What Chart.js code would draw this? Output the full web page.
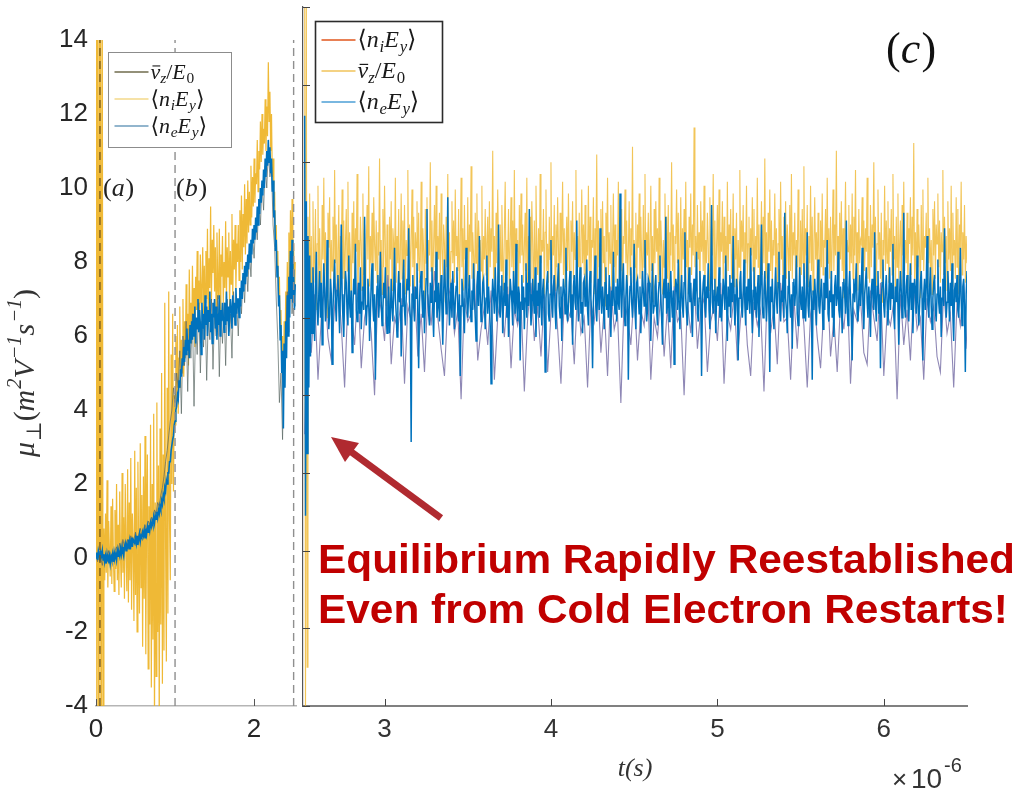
<!DOCTYPE html>
<html>
<head>
<meta charset="utf-8">
<script src="https://cdn.jsdelivr.net/npm/chart.js@4.4.1/dist/chart.umd.min.js"></script>
<style>
  html, body { margin: 0; padding: 0; background: #fff; }
  #wrap { position: relative; width: 1023px; height: 791px; overflow: hidden; }
  #wrap canvas { position: absolute; left: 0; top: 0; }
</style>
</head>
<body>
<div id="wrap">
  <canvas id="panelAB" width="1023" height="791"></canvas>
  <canvas id="panelC" width="1023" height="791"></canvas>
</div>
<script>
// ---- panels (a)+(b): t = 0 .. 2.52 us, sampled every 0.01 us ----
const leftStep = 0.01;
const niLeft = [
  15,-5,15,-5,15,-5,15,-5,14,-5,
  0.8,-0.6,1.2,-0.4,2.1,-0.8,1.0,0.2,-0.5,1.4,
  -0.7,1.6,0.1,-0.9,1.3,-0.3,2.0,-0.6,0.9,-1.0,
  1.8,0.0,-0.8,2.3,-0.4,1.1,-1.1,2.0,0.3,-0.9,
  2.4,-1.2,1.5,-0.6,2.7,-1.4,1.2,0.4,-1.7,2.9,
  -1.0,1.9,-2.0,2.6,0.2,-1.5,3.1,-0.8,1.7,-2.4,
  2.2,-1.1,3.3,-2.6,1.0,2.8,-3.0,1.4,-1.8,3.6,
  -3.5,2.0,-2.2,3.9,-4.5,1.5,-3.2,4.2,-2.0,2.5,
  -4.6,3.5,-1.8,5.0,-3.4,2.8,-2.5,6.9,0.5,-2.8,
  4.6,-1.5,7.2,1.0,-0.6,5.5,2.0,6.6,1.8,4.4,
  3.6,6.0,4.2,6.3,3.9,5.4,6.8,4.6,5.9,5.0,
  7.0,4.9,6.4,5.4,7.4,5.7,6.6,5.2,7.8,6.1,
  6.9,5.8,7.9,6.3,7.3,5.7,7.6,6.7,8.3,6.5,
  7.5,6.2,8.2,6.9,7.2,8.4,6.6,7.9,6.9,8.3,
  7.0,8.9,6.5,8.1,7.3,9.5,6.9,8.6,7.7,9.0,
  7.2,8.4,6.6,8.8,7.5,7.0,8.9,6.7,8.2,7.6,
  8.7,6.9,8.0,7.3,9.1,7.0,8.4,7.6,8.8,6.8,
  8.3,7.4,9.3,7.1,8.6,7.8,9.0,7.3,8.5,8.0,
  9.0,7.5,9.4,8.0,9.8,7.8,9.3,8.4,10.1,8.2,
  9.7,8.5,10.2,8.8,9.9,9.0,10.6,9.2,10.3,9.5,
  10.8,9.6,10.4,10.1,11.3,9.9,11.0,10.5,11.8,10.7,
  12.0,10.9,11.6,11.2,12.4,11.0,12.2,11.4,13.4,11.8,
  12.6,11.0,12.0,10.3,10.8,9.5,9.9,8.6,9.0,7.9,
  8.3,7.0,7.6,6.2,6.7,5.3,6.0,4.4,6.4,5.1,
  7.2,5.9,8.0,6.6,8.8,7.0,9.4,7.6,9.7,7.3,
  8.5,7.1,8.0
];
const neLeft = [
  0.0,0.15,-0.05,0.2,0.1,-0.1,0.15,0.05,0.2,-0.05,
  0.1,-0.1,0.05,-0.15,0.1,-0.05,-0.1,0.05,-0.15,0.05,
  -0.05,0.1,-0.1,0.15,0.0,0.1,-0.05,0.2,0.05,0.15,
  0.05,0.25,0.1,0.3,0.15,0.05,0.3,0.4,0.2,0.35,
  0.3,0.5,0.25,0.45,0.35,0.55,0.3,0.5,0.45,0.4,
  0.55,0.4,0.6,0.35,0.5,0.65,0.45,0.6,0.55,0.7,
  0.6,0.75,0.55,0.8,0.65,0.85,0.7,0.9,0.75,0.95,
  0.85,1.0,0.9,1.1,0.95,1.15,1.05,1.25,1.1,1.3,
  1.2,1.4,1.3,1.55,1.45,1.7,1.6,1.9,1.8,2.1,
  2.0,2.3,2.3,2.6,2.6,2.9,2.9,3.2,3.3,3.6,
  3.7,4.0,4.1,4.4,4.3,4.8,4.6,5.1,4.9,5.4,
  5.2,5.7,5.3,5.9,5.5,6.2,5.6,5.9,5.4,6.3,
  5.8,6.4,5.9,6.6,6.0,6.8,5.8,6.5,6.2,7.0,
  6.1,6.7,6.3,5.5,6.9,6.2,6.6,5.9,7.1,6.3,
  6.8,6.0,6.7,6.4,7.2,6.1,6.6,5.8,6.9,6.5,
  7.0,6.2,6.8,5.9,6.6,6.3,7.1,6.0,6.7,6.4,
  6.9,6.5,6.1,6.9,6.3,7.2,6.4,6.8,6.0,6.6,
  7.0,6.7,6.2,7.1,6.5,6.9,6.3,7.3,6.6,7.0,
  7.0,6.5,7.3,6.8,7.5,7.0,7.7,7.2,7.9,7.4,
  8.0,7.6,8.2,7.8,8.5,8.0,8.6,8.2,8.9,8.5,
  9.0,8.6,9.2,8.8,9.5,9.0,9.7,9.3,10.0,9.6,
  10.2,9.8,10.5,10.0,10.8,10.3,11.0,10.6,11.3,10.7,
  11.1,10.4,10.8,9.9,10.2,9.2,9.4,8.3,8.6,7.6,
  7.9,6.8,7.1,5.9,6.3,5.0,5.6,3.5,5.8,4.6,
  6.4,5.4,7.1,6.0,7.6,6.5,8.3,7.0,8.6,6.9,
  7.8,6.7,7.4
];
// drift velocity estimate, every 0.02 us
const vzLeftStep = 0.02;
const vzLeft = [
  0.1,-0.1,0.2,0.0,-0.2,0.1,0.0,-0.1,0.2,0.0,
  0.1,-0.1,0.2,0.3,0.1,0.4,0.2,0.5,0.3,0.4,
  0.5,0.3,0.6,0.4,0.5,0.7,0.5,0.6,0.8,0.6,
  0.7,0.9,0.7,1.0,0.9,1.1,1.0,1.3,1.2,1.5,
  1.4,1.7,1.9,2.2,2.6,2.9,3.3,3.7,4.0,4.6,
  4.2,5.0,4.6,5.6,3.9,6.0,5.2,6.4,4.5,6.2,
  5.4,6.6,4.1,6.3,5.5,6.9,5.0,6.4,5.7,6.8,
  4.8,6.5,5.9,7.0,5.1,6.6,6.0,7.1,4.9,6.7,
  5.8,6.9,5.2,7.0,6.1,6.6,5.4,7.2,6.3,6.9,
  6.0,7.3,6.6,7.6,6.9,8.0,7.2,8.3,7.6,8.7,
  8.1,9.1,8.6,9.6,9.0,10.1,9.4,10.6,10.0,11.0,
  10.3,10.6,9.0,8.4,7.0,5.9,4.2,5.0,3.2,5.6,
  5.8,7.2,6.1,8.3,6.6,7.4,6.8
];
// phase boundaries (dashed markers)
const phaseMarks = [0.05, 1.0, 2.5];

// ---- panel (c): restart, t = 2.52 .. 6.5 us, sampled every 0.005 us ----
const rightStart = 2.52;
const rightStep = 0.005;
const neRight = [
  11.2,0.9,9.0,2.5,8.1,4.2,7.6,5.0,6.9,5.6,7.3,6.1,5.4,6.8,7.7,6.2,5.8,6.6,7.2,6.0,
  6.9,5.3,6.4,7.4,6.7,5.9,6.3,8.0,6.5,5.7,6.1,7.0,6.6,4.8,6.2,6.9,7.5,6.4,5.9,6.7,
  7.1,6.3,5.6,6.8,8.4,6.6,6.0,5.5,6.5,7.2,6.9,6.1,5.8,7.6,6.4,6.0,6.7,5.1,6.3,7.0,
  6.6,7.9,6.2,5.9,6.5,6.9,6.1,7.3,5.7,6.4,6.8,6.2,8.6,6.5,5.8,6.3,7.0,6.6,5.4,6.1,
  6.9,7.4,6.3,5.9,6.6,4.4,6.2,6.8,7.1,6.0,6.5,7.7,6.4,5.8,6.2,6.9,6.5,7.3,6.1,5.6,
  6.4,6.8,5.6,6.0,7.0,6.3,5.9,6.7,7.8,6.5,6.1,5.5,6.6,7.2,6.4,6.9,5.0,6.3,6.8,7.5,
  6.2,5.8,6.5,7.0,6.7,8.3,6.4,6.0,2.8,6.6,7.1,6.3,5.9,6.8,6.5,7.4,6.1,4.7,6.4,6.9,
  7.2,6.5,6.0,6.7,5.6,6.3,7.0,8.8,6.6,6.1,5.8,6.9,6.4,7.3,6.2,5.5,6.7,6.4,7.7,6.0,
  6.3,6.9,5.9,6.5,7.1,6.2,5.3,6.6,7.5,6.8,6.1,6.4,9.1,6.7,5.8,6.3,6.9,6.0,7.2,6.5,
  5.7,6.4,6.8,7.3,6.2,5.9,6.6,4.5,6.3,7.0,6.7,6.1,5.6,6.9,7.8,6.4,6.0,6.6,7.1,6.3,
  5.9,6.7,6.2,7.4,6.5,6.0,5.4,6.8,7.2,6.3,8.1,6.6,5.9,6.2,6.9,7.0,6.4,5.7,6.5,7.6,
  6.1,6.8,6.3,5.8,4.3,6.4,7.0,6.6,6.1,7.3,6.5,5.9,6.7,8.4,6.2,6.0,6.8,7.1,5.6,6.4,
  6.9,6.3,7.5,6.0,6.6,5.5,6.2,7.0,6.7,6.4,5.8,7.2,6.5,6.1,7.9,6.3,5.9,6.8,6.6,4.9,
  6.4,7.1,6.2,6.8,5.7,6.5,7.4,6.0,6.9,6.3,8.8,6.6,5.8,6.2,7.0,6.5,6.1,7.3,5.5,6.7,
  6.3,6.9,6.0,7.6,6.4,5.8,6.7,7.0,6.2,4.6,6.5,6.9,7.2,6.1,5.9,6.6,8.0,6.4,6.0,6.8,
  7.1,6.2,5.7,6.6,6.9,7.4,6.3,6.0,6.8,5.4,6.5,7.0,6.7,6.1,7.8,6.4,5.9,6.3,6.9,7.2,
  6.0,6.6,5.3,6.8,7.1,6.4,6.2,8.5,6.5,5.9,6.7,7.3,6.1,6.4,5.6,6.9,7.0,6.3,6.6,7.5,
  6.2,5.8,6.7,7.2,6.5,6.0,4.7,6.4,6.9,7.6,6.3,5.9,6.6,7.0,6.2,8.3,6.5,6.1,6.8,6.4,
  5.7,6.9,7.3,6.2,6.6,6.0,7.1,6.4,5.5,6.7,6.3,7.7,6.5,6.1,6.8,5.9,7.0,6.4,6.2,9.2,
  6.6,6.0,6.9,7.4,6.3,5.8,6.5,7.1,6.7,4.4,6.2,6.8,7.3,6.4,6.0,6.6,7.9,6.2,5.7,6.9,
  7.0,6.5,6.1,6.8,5.6,6.4,7.2,6.7,6.3,8.0,6.6,5.9,6.2,7.0,6.9,6.4,5.4,6.5,7.4,6.1,
  6.3,6.8,7.1,6.2,5.8,6.6,6.9,7.6,6.4,6.0,5.3,6.7,7.0,6.5,8.6,6.1,6.3,6.9,5.9,6.6,
  7.2,6.4,6.0,6.7,4.8,6.5,7.0,6.8,6.2,7.5,6.4,5.7,6.6,7.1,6.3,6.0,6.9,8.2,6.5,6.1,
  5.8,6.7,7.3,6.4,6.9,6.2,5.5,6.6,7.0,6.3,6.8,7.7,6.1,5.9,6.5,7.2,6.6,4.5,6.4,6.9,
  7.1,6.3,6.0,6.8,6.5,7.4,6.2,5.7,6.9,8.9,6.4,6.1,6.7,7.0,5.6,6.5,6.8,6.3,7.3,6.0,
  6.6,5.9,6.4,7.0,6.7,6.2,7.6,6.5,5.4,6.8,6.3,7.1,6.0,6.9,6.4,8.1,6.6,5.8,6.2,7.0,
  6.7,4.9,6.5,6.9,7.2,6.3,6.0,6.6,7.5,6.4,5.8,6.8,6.2,7.0,6.5,6.1,7.8,6.4,5.6,6.7,
  7.3,6.2,6.8,6.0,6.6,7.1,5.5,6.4,6.9,8.4,6.3,6.0,6.7,7.2,6.5,5.9,6.6,7.4,6.1,4.6,
  6.8,6.4,7.0,6.2,5.7,6.6,7.3,6.5,6.1,6.9,7.7,6.3,5.9,6.7,6.4,7.1,6.0,8.7,6.5,6.2,
  5.6,6.8,7.2,6.4,6.0,6.6,5.2,6.9,7.0,6.3,6.7,7.6,6.1,5.8,6.5,7.3,6.4,6.2,6.8,6.0,
  7.4,6.5,5.9,6.6,8.2,6.3,6.0,6.9,7.1,6.4,4.4,6.7,6.2,7.0,6.5,5.8,6.8,7.5,6.3,6.1,
  6.6,7.0,6.4,5.7,6.9,6.2,7.3,6.5,8.0,6.1,5.9,6.7,6.4,7.2,6.0,6.6,5.5,6.8,7.1,6.3,
  6.5,7.7,6.2,6.0,6.8,6.4,5.6,6.9,7.0,6.6,6.1,8.5,6.3,5.8,6.7,7.2,6.5,6.0,4.9,6.6,
  7.0,6.4,6.8,7.4,6.1,5.9,6.5,7.1,6.3,6.7,7.8,6.2,5.7,6.6,6.9,7.3,6.4,6.0,6.8,6.3,
  5.5,6.7,7.0,6.5,6.2,8.2,6.4,5.9,6.8,7.2,6.1,6.6,4.7,6.5,6.9,7.5,6.3,6.0,6.7,7.1,
  6.4,5.8,6.6,7.3,6.2,6.9,6.5,7.9,6.1,5.7,6.8,6.4,7.0,6.3,5.3,6.6,7.2,6.7,6.0,6.5,
  8.7,6.3,6.0,6.8,7.1,6.4,5.9,6.6,7.4,6.2,6.9,5.6,6.5,7.0,6.7,6.1,7.6,6.4,5.8,6.3,
  6.9,7.2,6.5,4.9,6.6,7.0,6.2,6.8,8.1,6.4,6.0,6.7,7.3,6.3,5.7,6.5,6.9,7.1,6.2,5.9,
  6.6,7.5,6.4,6.1,6.8,5.5,6.5,7.0,6.3,8.3,6.7,6.0,6.4,7.2,6.6,5.9,6.9,6.3,7.4,6.1,
  5.4,6.7,6.9,6.4,7.1,6.2,6.0,6.6,7.8,6.5,5.8,6.8,7.0,6.3,4.6,6.6,7.2,6.4,6.1,6.7
];
const vzRight = [
  15,-5,14.5,-3,8.6,5.0,9.2,6.3,8.1,5.8,9.0,6.9,7.6,8.8,6.2,7.9,9.4,6.6,8.3,7.1,
  6.4,8.9,7.5,9.6,6.8,8.2,7.3,6.0,8.7,7.8,9.1,6.5,8.0,7.2,8.6,6.9,9.8,7.4,8.4,6.7,
  7.7,8.9,6.3,8.1,7.5,9.3,7.0,8.5,6.6,7.9,8.8,7.2,9.5,6.8,8.2,7.6,6.1,8.7,7.4,9.0,
  6.9,8.3,7.7,9.7,6.4,8.0,7.3,8.6,7.9,6.7,9.2,7.1,8.4,6.2,7.8,8.9,7.5,9.9,6.8,8.1,
  7.4,8.7,6.5,9.1,7.9,7.2,8.5,6.9,8.2,7.6,10.1,7.0,8.0,6.6,8.8,7.3,9.4,7.8,6.3,8.4,
  7.1,5.8,8.6,7.5,9.0,6.7,8.3,7.9,7.2,9.6,6.9,8.1,7.4,8.8,6.4,7.7,9.2,7.0,8.5,7.3,
  8.9,6.6,8.0,7.6,9.8,7.1,8.4,6.8,7.9,9.3,7.3,8.6,6.5,8.2,7.8,9.0,7.2,8.7,6.9,7.5,
  9.5,7.0,8.3,7.7,6.2,8.8,7.4,9.1,6.8,8.0,7.6,10.0,7.2,8.5,6.7,7.9,8.9,7.3,9.4,6.9,
  8.1,7.5,8.7,6.6,9.2,7.8,7.1,8.4,7.9,6.4,8.6,7.3,9.7,7.0,8.2,6.8,7.7,9.0,7.4,8.5,
  6.9,9.3,7.6,8.1,7.2,8.8,6.5,7.9,9.6,7.3,8.3,6.7,8.9,7.5,8.0,7.1,9.1,6.8,8.4,7.7,
  9.9,7.0,8.2,7.6,6.3,8.7,7.4,9.2,6.9,8.5,7.8,8.0,7.2,9.4,6.6,8.1,7.5,8.8,7.1,7.9,
  8.6,6.8,9.0,7.3,8.3,7.7,10.3,7.0,8.1,6.5,8.7,7.4,9.3,7.8,6.9,8.4,7.2,8.9,7.6,6.7,
  8.2,9.5,7.1,8.0,7.5,8.8,6.6,7.9,9.1,7.3,8.5,7.0,9.8,6.8,8.3,7.7,8.0,6.4,8.9,7.4,
  9.2,7.6,8.4,6.9,7.8,8.7,7.2,9.6,6.7,8.1,7.5,8.6,7.0,9.0,7.9,6.3,8.5,7.3,9.4,7.8,
  7.1,8.3,6.8,9.7,7.4,8.0,7.7,8.8,6.5,8.2,9.3,7.2,7.9,6.9,8.6,7.5,10.0,7.0,8.1,7.6,
  8.9,6.7,8.4,7.3,9.1,7.8,6.6,8.7,7.4,8.0,9.5,7.1,8.3,6.8,7.9,8.6,7.2,9.2,7.6,6.4,
  8.5,7.7,9.0,7.0,8.2,7.5,9.8,6.9,8.1,7.3,8.7,6.5,7.9,9.3,7.4,8.4,7.1,8.9,6.7,8.0,
  7.6,9.4,7.2,8.6,6.9,8.0,7.8,9.1,6.6,8.3,7.5,10.2,7.0,8.5,7.3,7.9,8.8,6.8,9.0,7.4,
  8.1,6.3,8.7,7.7,9.6,7.1,8.2,7.4,8.9,6.7,7.8,9.2,7.3,8.4,6.9,8.0,7.6,9.5,7.0,8.6,
  7.2,8.8,6.6,8.1,7.9,9.3,7.4,8.5,6.8,7.7,9.0,7.1,8.3,7.6,10.4,6.9,8.0,7.3,8.7,6.5,
  8.4,7.8,9.2,7.0,8.6,7.5,6.7,8.9,7.3,9.7,7.1,8.2,7.6,8.7,6.8,7.9,9.4,7.2,8.1,6.4,
  8.8,7.4,9.0,7.7,8.3,6.9,9.6,7.1,8.5,7.8,6.6,8.0,7.3,9.2,7.5,8.6,7.0,8.9,6.7,8.2,
  7.6,10.0,7.2,8.4,6.8,8.1,7.9,9.3,7.4,8.7,6.5,7.7,9.1,7.0,8.3,7.5,8.8,6.9,9.5,7.3,
  8.0,6.6,8.6,7.8,9.2,7.1,8.4,7.6,10.9,7.3,8.1,6.9,8.9,7.5,8.2,6.4,9.0,7.7,8.5,7.2,
  9.4,6.8,8.0,7.4,8.7,7.9,6.7,9.1,7.2,8.3,7.6,9.7,7.0,8.5,6.5,7.8,8.9,7.3,9.3,7.1,
  8.2,7.7,9.0,6.9,8.6,7.4,8.1,6.6,9.5,7.2,8.4,7.9,8.8,7.0,7.6,9.2,6.8,8.3,7.5,8.7,
  6.3,8.0,7.3,9.8,7.1,8.5,7.7,8.9,6.9,8.2,7.4,9.4,7.0,7.9,8.6,6.6,8.3,7.6,9.1,7.2,
  8.8,6.8,8.1,7.5,9.6,7.3,8.4,6.7,7.8,9.0,7.1,8.6,7.4,10.1,7.0,8.2,6.5,8.7,7.7,9.3,
  7.2,8.5,6.9,8.0,7.6,9.2,7.3,8.3,6.4,7.9,8.8,7.1,9.5,7.5,8.1,6.8,8.6,7.4,9.0,7.0,
  8.4,7.8,6.6,8.9,7.2,9.7,7.0,8.2,7.6,8.7,6.9,8.0,7.3,9.3,7.7,6.5,8.5,7.1,8.8,7.4,
  9.9,7.0,8.3,7.6,8.9,6.8,8.1,7.4,9.4,7.2,8.6,6.6,7.9,9.1,7.5,8.2,7.0,8.7,7.7,6.3,
  8.5,7.3,9.2,7.1,8.0,7.8,8.8,6.9,9.6,7.4,8.3,7.0,8.6,6.7,7.9,9.3,7.2,8.4,7.6,10.3,
  7.1,8.1,6.8,8.7,7.5,9.0,7.2,8.3,6.5,7.8,9.5,7.3,8.0,7.7,8.9,6.9,8.4,7.4,9.2,7.0,
  8.6,7.6,9.8,7.1,8.2,6.7,8.8,7.4,8.0,7.9,9.1,6.6,8.5,7.2,8.3,7.7,9.6,7.0,8.1,6.9,
  8.9,7.3,8.4,7.8,10.0,7.1,8.6,6.8,7.9,9.3,7.5,8.2,7.0,8.7,6.4,8.0,7.6,9.4,7.2,8.5,
  7.4,9.0,6.9,8.3,7.7,8.8,7.1,9.7,7.5,8.1,6.6,8.6,7.3,9.2,7.0,7.9,8.5,6.8,8.9,7.6,
  9.5,7.2,8.0,7.4,8.7,6.7,8.3,7.9,9.1,7.1,8.6,7.6,10.5,7.0,8.2,6.9,8.8,7.3,8.4,7.7,
  6.5,8.9,7.5,9.3,7.2,8.1,7.8,8.7,6.8,9.6,7.4,8.3,7.1,8.0,6.6,8.8,7.6,9.0,7.0,8.4,
  7.9,9.2,7.3,8.5,6.9,8.2,7.7,9.8,7.1,8.6,7.4,8.1,6.7,9.0,7.5,8.3,7.2,9.4,6.8,8.7,
  7.6,8.0,7.0,9.1,7.3,8.8,6.6,8.4,7.8,9.5,7.1,8.2,7.5,8.9,6.9,8.1,7.4,9.3,7.2,8.5
];
// ion average, every 0.02 us
const niRightStep = 0.02;
const niRight = [
  3.0,6.2,5.1,6.6,4.4,6.0,6.8,5.5,4.9,6.3,7.0,5.8,4.2,6.5,6.1,5.3,6.9,4.7,6.0,6.4,
  5.6,4.0,6.7,6.2,5.4,7.1,4.8,6.0,5.7,6.5,4.3,6.3,5.9,6.8,5.0,6.1,4.6,6.6,5.8,7.2,
  6.0,5.2,4.5,6.4,6.9,5.6,6.2,3.9,6.5,5.9,6.1,7.0,4.9,5.7,6.3,5.3,6.7,4.4,6.0,6.6,
  5.5,6.8,4.7,6.2,5.8,6.4,4.1,6.0,6.9,5.4,6.3,5.0,6.6,4.6,6.1,7.1,5.7,4.3,6.5,5.9,
  6.2,4.8,6.7,5.6,6.0,4.2,6.4,5.9,7.0,5.1,6.3,4.5,6.8,5.7,6.1,3.8,6.5,6.0,5.3,6.7,
  4.9,6.2,5.8,6.9,4.4,6.0,5.5,6.6,5.0,6.3,4.7,6.8,5.9,6.1,4.0,6.4,5.6,7.0,5.2,6.2,
  6.5,4.6,5.9,6.3,5.4,6.9,4.3,6.1,5.7,6.6,4.9,6.0,6.8,5.3,4.5,6.4,5.8,6.2,4.1,6.7,
  5.6,6.3,4.8,6.9,5.9,6.0,4.4,6.5,5.2,6.7,5.8,4.2,6.1,6.6,5.5,4.7,6.3,7.1,5.0,6.0,
  4.6,6.4,5.7,6.8,4.3,6.2,5.9,6.5,5.1,4.8,6.7,6.0,5.4,6.9,4.5,6.1,5.8,6.4,3.9,6.6,
  5.3,6.2,4.9,6.8,5.7,6.0,4.4,6.5,5.9,6.3,5.0,4.6,6.7,5.6,6.1,4.2,6.4,5.8,6.9,5.2
];
const rightYTicks = [-4, -2, 0, 2, 4, 6, 8, 10, 12, 14];

function series(values, start, step) {
  return values.map((v, i) => ({ x: +(start + i * step).toFixed(4), y: v }));
}
function markerLine(t) {
  return [{ x: t, y: -4 }, { x: t, y: 14 }];
}

Chart.defaults.font.family = "'Liberation Sans', Arial, sans-serif";
Chart.defaults.color = '#262626';

const SERIF = "'Liberation Serif', 'DejaVu Serif', serif";

// draw a small formula: parts are [text, kind]
// kind: r roman, i italic, b italic subscript, br roman subscript, p superscript, bar italic with overbar
function drawMath(ctx, x, y, parts, size, color, measureOnly) {
  ctx.save();
  ctx.fillStyle = color;
  ctx.textAlign = 'left';
  ctx.textBaseline = 'alphabetic';
  const x0 = x;
  for (const [s, k] of parts) {
    let sz = size, dy = 0;
    const ital = k === 'i' || k === 'b' || k === 'bar' || k === 'p';
    if (k === 'b' || k === 'br') { sz = size * 0.7; dy = size * 0.22; }
    if (k === 'p') { sz = size * 0.68; dy = -size * 0.42; }
    ctx.font = (ital ? 'italic ' : '') + sz + 'px ' + SERIF;
    const w = ctx.measureText(s).width;
    if (!measureOnly) {
      ctx.fillText(s, x, y + dy);
      if (k === 'bar') ctx.fillRect(x + w * 0.2, y - size * 0.6, w * 0.8, Math.max(1, size * 0.05));
    }
    x += w + (k === 'i' ? size * 0.03 : 0);
  }
  ctx.restore();
  return x - x0;
}

const lblNi = [['⟨', 'r'], ['n', 'i'], ['i', 'b'], ['E', 'i'], ['y', 'b'], ['⟩', 'r']];
const lblNe = [['⟨', 'r'], ['n', 'i'], ['e', 'b'], ['E', 'i'], ['y', 'b'], ['⟩', 'r']];
const lblVz = [['v', 'bar'], ['z', 'b'], ['/', 'r'], ['E', 'i'], ['0', 'br']];
const yTitle = [['μ', 'i'], ['⊥', 'br'], ['(', 'r'], ['m', 'i'], ['2', 'p'], ['V', 'i'], ['−1', 'p'],
                ['s', 'i'], ['−1', 'p'], [')', 'r']];

function drawLegend(ctx, box, rows, size, border, borderW) {
  ctx.save();
  ctx.fillStyle = '#fff';
  ctx.fillRect(box.x, box.y, box.w, box.h);
  ctx.strokeStyle = border;
  ctx.lineWidth = borderW;
  ctx.strokeRect(box.x, box.y, box.w, box.h);
  rows.forEach(r => {
    ctx.strokeStyle = r.color;
    ctx.lineWidth = 1.6;
    ctx.beginPath();
    ctx.moveTo(box.x + 6, r.y);
    ctx.lineTo(box.x + 40, r.y);
    ctx.stroke();
    drawMath(ctx, box.x + 42, r.y + size * 0.3, r.parts, size, '#1a1a1a');
  });
  ctx.restore();
}

function inwardTicks(ctx, scale, len, color) {
  ctx.save();
  ctx.strokeStyle = color;
  ctx.lineWidth = 1;
  scale.ticks.forEach(t => {
    const p = Math.round(scale.getPixelForValue(t.value)) + 0.5;
    ctx.beginPath();
    if (scale.isHorizontal()) { ctx.moveTo(p, scale.top); ctx.lineTo(p, scale.top - len); }
    else { ctx.moveTo(scale.right, p); ctx.lineTo(scale.right + len, p); }
    ctx.stroke();
  });
  ctx.restore();
}

const leftDecor = {
  id: 'leftDecor',
  afterDraw(chart) {
    const ctx = chart.ctx, xs = chart.scales.x, ys = chart.scales.y;
    inwardTicks(ctx, xs, 7, '#555');
    const yLab = ys.getPixelForValue(10) + 8;
    drawMath(ctx, xs.getPixelForValue(0.09), yLab, [['(', 'r'], ['a', 'i'], [')', 'r']], 26, '#222');
    drawMath(ctx, xs.getPixelForValue(1.0) + 1, yLab, [['(', 'r'], ['b', 'i'], [')', 'r']], 26, '#222');
    drawLegend(ctx, { x: 108.5, y: 52.5, w: 123, h: 95 }, [
      { y: 72, color: '#6f6b4c', parts: lblVz },
      { y: 99, color: '#f3d98a', parts: lblNi },
      { y: 126, color: '#6e9cbc', parts: lblNe }
    ], 22, '#8c8c8c', 1);
    // rotated y-axis title
    ctx.save();
    ctx.translate(24, (ys.top + ys.bottom) / 2);
    ctx.rotate(-Math.PI / 2);
    const w = drawMath(ctx, 0, 0, yTitle, 30, '#333', true);
    drawMath(ctx, -w / 2, 10, yTitle, 30, '#333');
    ctx.restore();
  }
};

const rightDecor = {
  id: 'rightDecor',
  afterDraw(chart) {
    const ctx = chart.ctx, xs = chart.scales.x, ys = chart.scales.y;
    inwardTicks(ctx, xs, 7, '#444');
    inwardTicks(ctx, ys, 7, '#444');
    drawLegend(ctx, { x: 315.5, y: 21.5, w: 127, h: 101 }, [
      { y: 40, color: '#e0561c', parts: lblNi },
      { y: 71, color: '#f0c35a', parts: lblVz },
      { y: 102, color: '#4d9fd6', parts: lblNe }
    ], 24, '#2b2b2b', 1.6);
    // panel tag
    drawMath(ctx, 886, 63, [['(', 'r'], ['c', 'i'], [')', 'r']], 44, '#111');
    // exponent of the time axis
    ctx.save();
    ctx.fillStyle = '#333';
    ctx.textBaseline = 'alphabetic';
    ctx.font = "26px 'Liberation Sans', Arial, sans-serif";
    ctx.fillText('×', 892, 788);
    ctx.font = "28px 'Liberation Sans', Arial, sans-serif";
    ctx.fillText('10', 911, 788);
    ctx.font = "20px 'Liberation Sans', Arial, sans-serif";
    ctx.fillText('-6', 944, 772);
    ctx.restore();
    // call-out arrow
    ctx.save();
    ctx.strokeStyle = '#b02a30';
    ctx.fillStyle = '#b02a30';
    ctx.lineWidth = 7;
    ctx.beginPath();
    ctx.moveTo(441, 518);
    ctx.lineTo(350, 451);
    ctx.stroke();
    ctx.beginPath();
    ctx.moveTo(331, 437);
    ctx.lineTo(359, 443);
    ctx.lineTo(345, 462);
    ctx.closePath();
    ctx.fill();
    ctx.restore();
    // call-out text
    const line1 = 'Equilibrium Rapidly Reestablished';
    const line2 = 'Even from Cold Electron Restarts!';
    ctx.save();
    ctx.fillStyle = '#c00000';
    ctx.textBaseline = 'alphabetic';
    ctx.font = "bold 41px 'Liberation Sans', Arial, sans-serif";
    const sx = 697 / ctx.measureText(line1).width;
    ctx.translate(318, 573);
    ctx.scale(sx, 1);
    ctx.fillText(line1, 0, 0);
    ctx.fillText(line2, 0, 50);
    ctx.restore();
  }
};

const baseLine = { pointRadius: 0, tension: 0, fill: false };

new Chart(document.getElementById('panelAB'), {
  type: 'line',
  data: {
    datasets: [
      ...phaseMarks.map((t, i) => ({
        ...baseLine, data: markerLine(t), order: 0, borderWidth: 1.4,
        borderDash: [8, 5], borderColor: i === 0 ? '#7a5c1c' : '#8f8f8f'
      })),
      { ...baseLine, label: 'ne', data: series(neLeft, 0, leftStep), order: 1, borderWidth: 1.6, borderColor: '#0072BD' },
      { ...baseLine, label: 'vz', data: series(vzLeft, 0, vzLeftStep), order: 2, borderWidth: 1, borderColor: 'rgba(90,104,100,0.7)' },
      { ...baseLine, label: 'ni', data: series(niLeft, 0, leftStep), order: 3, borderWidth: 1.2, borderColor: 'rgba(237,177,32,0.9)' }
    ]
  },
  options: {
    responsive: false, animation: false, events: [],
    layout: { padding: { left: 0, top: 40, right: 727, bottom: 0 } },
    plugins: { legend: { display: false }, tooltip: { enabled: false } },
    scales: {
      x: {
        type: 'linear', min: 0, max: 2.53,
        ticks: { stepSize: 2, includeBounds: false, font: { size: 26 }, color: '#262626', padding: 8, maxRotation: 0 },
        grid: { display: false, drawTicks: false },
        border: { color: '#b5b5b5', width: 1.5 },
        afterFit: s => { s.height = 85; }
      },
      y: {
        type: 'linear', min: -4, max: 14,
        ticks: { stepSize: 2, font: { size: 26 }, color: '#262626', padding: 8 },
        grid: { display: false, drawTicks: false },
        border: { display: false },
        afterFit: s => { s.width = 96; }
      }
    }
  },
  plugins: [leftDecor]
});

new Chart(document.getElementById('panelC'), {
  type: 'line',
  data: {
    datasets: [
      { ...baseLine, label: 'ne', data: series(neRight, rightStart, rightStep), order: 1, borderWidth: 1.5, borderColor: '#0072BD' },
      { ...baseLine, label: 'ni', data: series(niRight, rightStart, niRightStep), order: 2, borderWidth: 1.1, borderColor: 'rgba(122,114,168,0.85)' },
      { ...baseLine, label: 'vz', data: series(vzRight, rightStart, rightStep), order: 3, borderWidth: 1.1, borderColor: 'rgba(237,177,32,0.75)' }
    ]
  },
  options: {
    responsive: false, animation: false, events: [],
    layout: { padding: { left: 303, top: 7, right: 56, bottom: 0 } },
    plugins: { legend: { display: false }, tooltip: { enabled: false } },
    scales: {
      x: {
        type: 'linear', min: 2.51, max: 6.5,
        ticks: { stepSize: 1, includeBounds: false, font: { size: 26 }, color: '#333', padding: 8, maxRotation: 0 },
        grid: { display: false, drawTicks: false },
        border: { color: '#808080', width: 2 },
        title: { display: true, text: 't(s)', color: '#333', font: { family: SERIF, style: 'italic', size: 26 }, padding: { top: 0, bottom: 6 } },
        afterFit: s => { s.height = 85; }
      },
      y: {
        type: 'linear', min: -4, max: 14,
        afterBuildTicks: s => { s.ticks = rightYTicks.map(v => ({ value: v })); },
        ticks: { display: false },
        grid: { display: false, drawTicks: false },
        border: { color: '#555', width: 1.2 },
        afterFit: s => { s.width = 0; }
      }
    }
  },
  plugins: [rightDecor]
});
</script>
</body>
</html>
